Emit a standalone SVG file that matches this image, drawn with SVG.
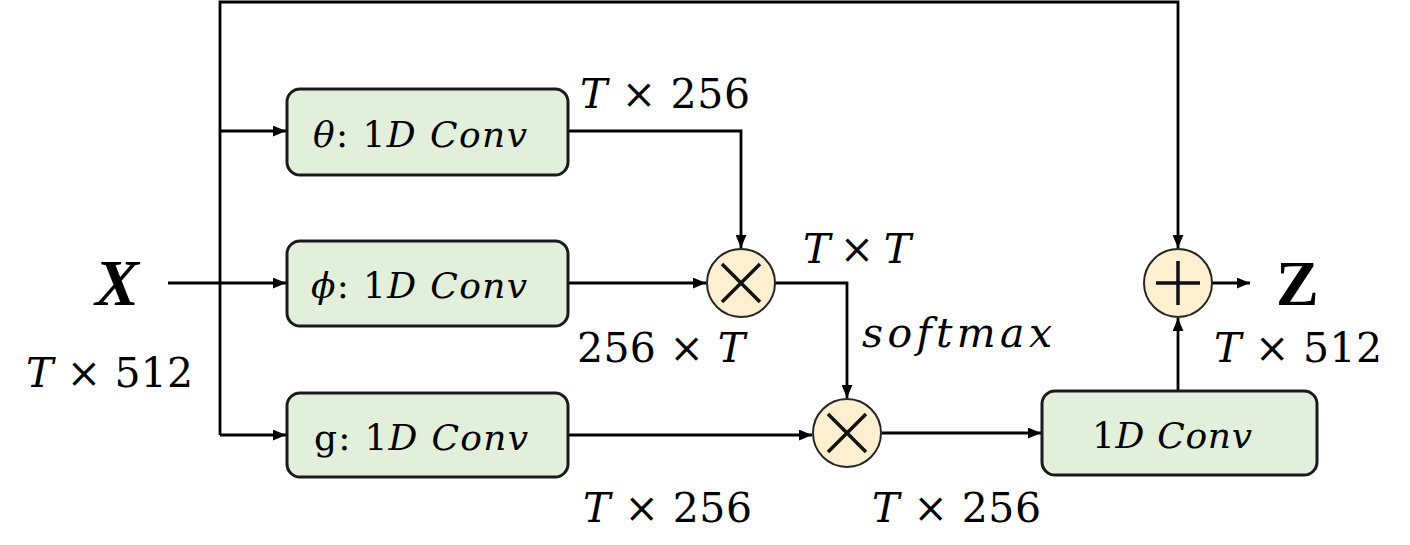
<svg xmlns="http://www.w3.org/2000/svg" width="1410" height="545" viewBox="0 0 1410 545">
<style>
.box{fill:#e2efda;stroke:#1a1a1a;stroke-width:3}
.op{fill:#fdefd0;stroke:#262626;stroke-width:2}
.sym{stroke:#111;stroke-width:3.5;fill:none}
.ln{stroke:#000;stroke-width:2.8;fill:none}
.t{font-family:"DejaVu Serif",serif;font-size:41px;fill:#000}
.bt{font-family:"DejaVu Serif",serif;font-size:36px;fill:#000}
.i{font-style:italic}
</style>
<defs>
<marker id="ah" viewBox="0 0 12 10" refX="12" refY="5" markerWidth="13" markerHeight="11" markerUnits="userSpaceOnUse" orient="auto">
<path d="M0,0 L12,5 L0,10 Z" fill="#000"/>
</marker>
</defs>
<g id="connectors">
<path class="ln" d="M220,435 V2 H1178 V248" marker-end="url(#ah)"/>
<path class="ln" d="M220,131 H286" marker-end="url(#ah)"/>
<path class="ln" d="M220,435 H286" marker-end="url(#ah)"/>
<path class="ln" d="M168,283 H286" marker-end="url(#ah)"/>
<path class="ln" d="M568,131 H741 V248" marker-end="url(#ah)"/>
<path class="ln" d="M568,283 H706" marker-end="url(#ah)"/>
<path class="ln" d="M775,283 H847 V398" marker-end="url(#ah)"/>
<path class="ln" d="M568,435 H812" marker-end="url(#ah)"/>
<path class="ln" d="M882,433 H1041" marker-end="url(#ah)"/>
<path class="ln" d="M1178,390 V318" marker-end="url(#ah)"/>
<path class="ln" d="M1212,283 H1250" marker-end="url(#ah)"/>
</g>
<g id="theta">
<rect class="box" x="287" y="89" width="281" height="86" rx="13"/>
<text class="bt" x="313" y="147" textLength="214"><tspan class="i">θ</tspan>: 1<tspan class="i">D</tspan>  <tspan class="i">Conv</tspan></text>
</g>
<g id="phi">
<rect class="box" x="287" y="241" width="281" height="85" rx="13"/>
<text class="bt" x="311" y="298" textLength="216"><tspan class="i">ϕ</tspan>: 1<tspan class="i">D</tspan>  <tspan class="i">Conv</tspan></text>
</g>
<g id="g">
<rect class="box" x="287" y="393" width="281" height="84" rx="13"/>
<text class="bt" x="314" y="450" textLength="214">g: 1<tspan class="i">D</tspan>  <tspan class="i">Conv</tspan></text>
</g>
<g id="conv">
<rect class="box" x="1042" y="391" width="275" height="84" rx="13"/>
<text class="bt" x="1092" y="448" textLength="160">1<tspan class="i">D</tspan>  <tspan class="i">Conv</tspan></text>
</g>
<g id="mul1">
<circle class="op" cx="741" cy="283" r="34"/>
<path class="sym" d="M722,264 L760,302 M760,264 L722,302"/>
</g>
<g id="mul2">
<circle class="op" cx="847" cy="433" r="34"/>
<path class="sym" d="M828,414 L866,452 M866,414 L828,452"/>
</g>
<g id="add">
<circle class="op" cx="1178" cy="283" r="34"/>
<path class="sym" d="M1156,283 H1200 M1178,261 V305"/>
</g>
<g id="labels">
<text x="95" y="305" font-family="Liberation Serif, serif" font-size="66" font-weight="bold" font-style="italic" textLength="47">X</text>
<text x="1276" y="305" font-family="Liberation Serif, serif" font-size="64" font-weight="bold" textLength="36">Z</text>
<text class="t" x="580" y="108" textLength="170"><tspan class="i">T</tspan> × 256</text>
<text class="t" x="803" y="263" textLength="108"><tspan class="i">T</tspan> × <tspan class="i">T</tspan></text>
<text class="t" x="577" y="362" textLength="168">256 × <tspan class="i">T</tspan></text>
<text class="t i" x="862" y="347" textLength="190">softmax</text>
<text class="t" x="26" y="387" textLength="167"><tspan class="i">T</tspan> × 512</text>
<text class="t" x="1214" y="362" textLength="168"><tspan class="i">T</tspan> × 512</text>
<text class="t" x="583" y="522" textLength="169"><tspan class="i">T</tspan> × 256</text>
<text class="t" x="872" y="522" textLength="169"><tspan class="i">T</tspan> × 256</text>
</g>
</svg>
